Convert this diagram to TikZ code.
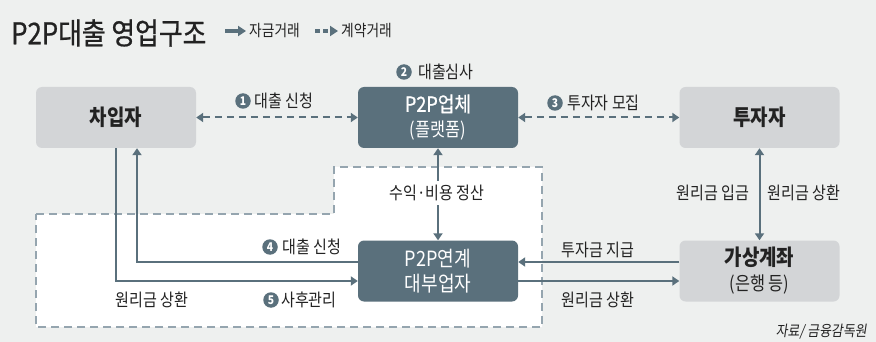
\documentclass[tikz,border=0pt]{standalone}
\usepackage{fontspec}
\setmainfont[FakeStretch=0.86]{Noto Sans CJK KR}
\newfontfamily\krsb[FakeStretch=0.86,FakeBold=0.7]{Noto Sans CJK KR}
\newfontfamily\krit[FakeStretch=0.86,FakeSlant=0.15]{Noto Sans CJK KR}
\usetikzlibrary{arrows.meta,calc}
\definecolor{bgc}{HTML}{EEF0EF}
\definecolor{boxgray}{HTML}{D3D5D7}
\definecolor{slate}{HTML}{5A707C}
\definecolor{dashc}{HTML}{95A5AF}
\definecolor{txt}{HTML}{222222}
\tikzset{
  graybox/.style={rounded corners=6pt, fill=boxgray, minimum width=160pt, minimum height=61pt, inner sep=0pt, text=txt, align=center, font=\fontsize{22}{25}\selectfont\bfseries},
  darkbox/.style={graybox, fill=slate, text=white, font=\fontsize{21}{25}\selectfont},
  lbl/.style={font=\fontsize{17.5}{20}\selectfont, text=txt, inner sep=0pt},
  numc/.style={circle, fill=slate, text=white, minimum size=15.5pt, inner sep=0pt, font=\fontsize{12}{12}\selectfont\bfseries},
  arr/.style={draw=slate, line width=2pt, -{Triangle[length=7pt,width=9pt]}},
  darr/.style={arr, dash pattern=on 7pt off 5pt},
  region/.style={draw=dashc, line width=2pt, dash pattern=on 8pt off 5pt, fill=white}
}
\begin{document}
\begin{tikzpicture}[x=1pt,y=-1pt]
\fill[bgc] (0,0) rectangle (876,342);
\useasboundingbox (0,0) rectangle (876,342);
% title and legend
\node[font=\krsb\fontsize{30}{32}\selectfont, text=txt, anchor=west, inner sep=0pt] (title) at (11,33) {P2P대출 영업구조};
\coordinate (lgs1) at (225,31);
\coordinate (lge1) at (246,31);
\draw[draw=slate, line width=4pt, -{Triangle[length=8pt,width=10pt]}] (lgs1) -- (lge1);
\node[lbl, font=\fontsize{16}{18}\selectfont, anchor=west] (lg1) at (249,31) {자금거래};
\coordinate (lgs2) at (315,31);
\coordinate (lge2) at (338,31);
\draw[draw=slate, line width=4pt, dash pattern=on 5pt off 3pt, -{Triangle[length=8pt,width=10pt]}] (lgs2) -- (lge2);
\node[lbl, font=\fontsize{16}{18}\selectfont, anchor=west] (lg2) at (341,31) {계약거래};
% dashed region
\draw[region] (36,214) -- (334,214) -- (334,167) -- (542,167) -- (542,327) -- (36,327) -- cycle;
% boxes
\node[graybox] (borrow) at (116,117.5) {차입자};
\node[darkbox] (plat) at (438,117.5) {{\krsb P2P업체}\\{\fontsize{19}{25}\selectfont (플랫폼)}};
\node[graybox] (inv) at (759.5,117.5) {투자자};
\node[darkbox] (lender) at (438,271) {P2P연계\\대부업자};
\node[graybox] (vacc) at (759.5,271) {가상계좌\\{\mdseries\fontsize{19}{25}\selectfont (은행 등)}};
% dashed contract arrows
\draw[darr, {Triangle[length=7pt,width=9pt]}-{Triangle[length=7pt,width=9pt]}] (borrow.east) -- (plat.west);
\draw[darr, {Triangle[length=7pt,width=9pt]}-{Triangle[length=7pt,width=9pt]}] (plat.east) -- (inv.west);
\node[numc] (n1) at (243,101) {1};
\node[lbl, anchor=west] (l1) at (254,101) {대출 신청};
\node[numc] (n2) at (404,72) {2};
\node[lbl, anchor=west] (l2) at (418,72) {대출심사};
\node[numc] (n3) at (555,103) {3};
\node[lbl, anchor=west] (l3) at (567,103) {투자자 모집};
% vertical money flows
\draw[arr, {Triangle[length=7pt,width=9pt]}-{Triangle[length=7pt,width=9pt]}] (plat.south) -- (lender.north);
\node[lbl, fill=white, inner xsep=3pt, inner ysep=4pt] (l6) at (437,193) {수익·비용 정산};
\draw[arr, {Triangle[length=7pt,width=9pt]}-{Triangle[length=7pt,width=9pt]}] (inv.south) -- (vacc.north);
\node[lbl] (l7) at (713,193) {원리금 입금};
\node[lbl] (l8) at (804,193) {원리금 상환};
% borrower loops
\draw[arr] (borrow.south) |- ($(lender.west)+(0,10)$);
\draw[arr] ($(lender.west)+(0,-9)$) -| ($(borrow.south)+(21,0)$);
\node[numc] (n4) at (270,247) {4};
\node[lbl, anchor=west] (l4) at (282,247) {대출 신청};
\node[numc] (n5) at (271,300) {5};
\node[lbl, anchor=west] (l5) at (281,300) {사후관리};
\node[lbl] (l9) at (152,300) {원리금 상환};
% lender <-> virtual account
\draw[arr] ($(vacc.west)+(0,-9)$) -- ($(lender.east)+(0,-9)$);
\draw[arr] ($(lender.east)+(0,10)$) -- ($(vacc.west)+(0,10)$);
\node[lbl] (l10) at (598,250) {투자금 지급};
\node[lbl] (l11) at (598,300) {원리금 상환};
% source
\node[lbl, font=\krit\fontsize{15}{17}\selectfont, anchor=east] (src) at (867,332) {자료/ 금융감독원};
\end{tikzpicture}
\end{document}
